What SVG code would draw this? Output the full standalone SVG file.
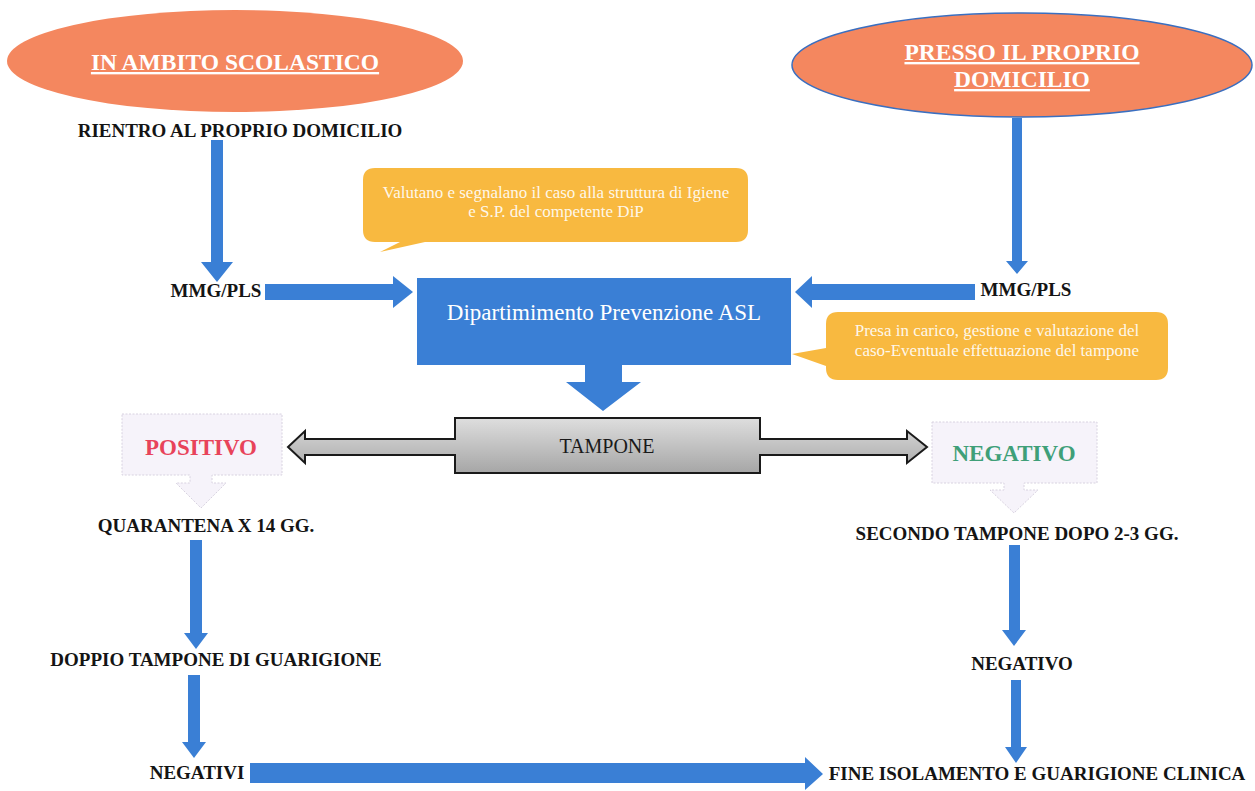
<svg xmlns="http://www.w3.org/2000/svg" width="1255" height="791" viewBox="0 0 1255 791">
<defs>
<linearGradient id="gray" x1="0" y1="0" x2="0" y2="1">
<stop offset="0" stop-color="#dedede"/>
<stop offset="1" stop-color="#a6a6a6"/>
</linearGradient>
<style>
.lbl{font-family:"Liberation Serif","Times New Roman",serif;font-weight:bold;font-size:19px;fill:#141414;text-anchor:middle}
.ell{fill:#f4875f}
.etx{font-family:"Liberation Serif","Times New Roman",serif;font-weight:bold;font-size:23.5px;fill:#ffffff;text-anchor:middle;text-decoration:underline}
.blue{fill:#3a7fd5}
.call{fill:#f8b940}
.ctx{font-family:"Liberation Serif","Times New Roman",serif;font-size:17px;fill:#ffffff;fill-opacity:0.9;text-anchor:middle}
.res{fill:#f6f3fa;stroke:#d8d2e0;stroke-width:1;stroke-dasharray:2 1.5}
.rtx{font-family:"Liberation Serif","Times New Roman",serif;font-weight:bold;font-size:23px;text-anchor:middle}
</style>
</defs>
<rect width="1255" height="791" fill="#ffffff"/>

<g id="scolastico">
<ellipse class="ell" cx="235" cy="61" rx="228" ry="51"/>
<text class="etx" x="235" y="70">IN AMBITO SCOLASTICO</text>
</g>
<g id="domicilio">
<ellipse class="ell" cx="1022" cy="65" rx="230" ry="52" stroke="#3a6fc0" stroke-width="1.5"/>
<text class="etx" x="1022" y="60">PRESSO IL PROPRIO</text>
<text class="etx" x="1022" y="87">DOMICILIO</text>
</g>
<g id="rientro"><text class="lbl" x="240" y="137">RIENTRO AL PROPRIO DOMICILIO</text></g>
<g id="mmg-left"><text class="lbl" x="216" y="297">MMG/PLS</text></g>
<g id="mmg-right"><text class="lbl" x="1026" y="296">MMG/PLS</text></g>

<g id="callout1">
<path class="call" d="M375,168 H736 Q748,168 748,180 V230 Q748,242 736,242 H425 L380,252 L400,242 H375 Q363,242 363,230 V180 Q363,168 375,168 Z"/>
<text class="ctx" x="556" y="198">Valutano e segnalano il caso alla struttura di Igiene</text>
<text class="ctx" x="556" y="217">e S.P. del competente DiP</text>
</g>

<g id="dipartimento">
<rect class="blue" x="417" y="278" width="374" height="87"/>
<text x="604" y="320" font-family="Liberation Serif, Times New Roman, serif" font-size="23" fill="#ffffff" text-anchor="middle">Dipartimimento Prevenzione ASL</text>
</g>

<g id="callout2">
<path class="call" d="M838,312 H1156 Q1168,312 1168,324 V368 Q1168,380 1156,380 H838 Q826,380 826,368 V366 L792,354 L826,348 V324 Q826,312 838,312 Z"/>
<text class="ctx" x="997" y="336">Presa in carico, gestione e valutazione del</text>
<text class="ctx" x="997" y="356">caso-Eventuale effettuazione del tampone</text>
</g>

<g id="tampone">
<path fill="url(#gray)" stroke="#1a1a1a" stroke-width="2" stroke-linejoin="miter" d="M455,418 H760 V439 H907 V431 L927,447 L907,463 V455 H760 V473 H455 V455 H305 V463 L288,447 L305,431 V439 H455 Z"/>
<text x="607" y="453" font-family="Liberation Serif, Times New Roman, serif" font-size="20" fill="#1a1a1a" text-anchor="middle">TAMPONE</text>
</g>

<g id="positivo">
<path class="res" d="M122,414 H282 V475 H212 V483 H226 L201,508 L176,483 H190 V475 H122 Z"/>
<text class="rtx" x="201" y="455" fill="#e8435a">POSITIVO</text>
</g>
<g id="negativo">
<path class="res" d="M932,422 H1097 V483 H1024 V490 H1038 L1014,513 L990,490 H1004 V483 H932 Z"/>
<text class="rtx" x="1014" y="461" fill="#3f9f78">NEGATIVO</text>
</g>

<g id="quarantena"><text class="lbl" x="206" y="532">QUARANTENA X 14 GG.</text></g>
<g id="doppio"><text class="lbl" x="216" y="666">DOPPIO TAMPONE DI GUARIGIONE</text></g>
<g id="negativi"><text class="lbl" x="197" y="779">NEGATIVI</text></g>
<g id="secondo"><text class="lbl" x="1017" y="540">SECONDO TAMPONE DOPO 2-3 GG.</text></g>
<g id="negativo2"><text class="lbl" x="1022" y="670">NEGATIVO</text></g>
<g id="fine"><text class="lbl" x="1037" y="780">FINE ISOLAMENTO E GUARIGIONE CLINICA</text></g>

<g id="connectors" class="blue">
<polygon points="211,140 223,140 223,262 233,262 217,282 201,262 211,262"/>
<polygon points="1012,118 1022,118 1022,261 1028,261 1017,274 1006,261 1012,261"/>
<polygon points="265,284 393,284 393,276 413,292 393,308 393,300 265,300"/>
<polygon points="975,284 812,284 812,276 795,292 812,308 812,300 975,300"/>
<polygon points="585,365 622,365 622,382 641,382 603,411 566,382 585,382"/>
<polygon points="190,540 202,540 202,633 208,633 196,649 184,633 190,633"/>
<polygon points="188,675 200,675 200,742 206,742 194,758 182,742 188,742"/>
<polygon points="1009,545 1020,545 1020,630 1026,630 1014,646 1002,630 1009,630"/>
<polygon points="1011,680 1021,680 1021,747 1027,747 1016,763 1005,747 1011,747"/>
<polygon points="250,763 805,763 805,757 823,774 805,790 805,783 250,783"/>
</g>
</svg>
